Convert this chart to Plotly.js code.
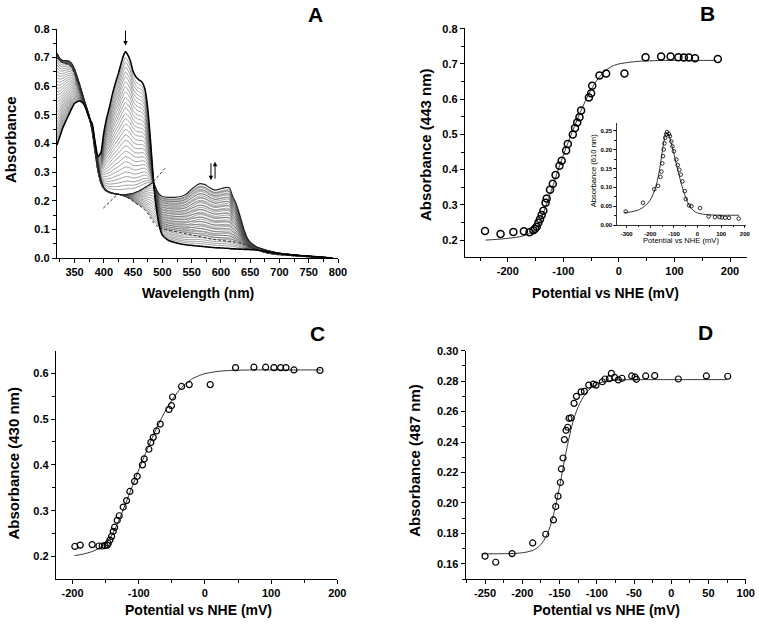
<!DOCTYPE html>
<html><head><meta charset="utf-8">
<script src="https://cdn.plot.ly/plotly-3.0.1.min.js"></script>
<style>html,body{margin:0;padding:0;background:#fff}#chart{width:759px;height:627px}</style>
</head><body><div id="chart"></div>
<script>
// ---------- Panel A: spectra ----------
const wavelengths = [320,325,330,335,340,345,350,355,360,365,370,375,380,385,390,395,400,405,410,415,420,425,430,435,437,440,445,450,455,460,465,470,475,480,485,490,495,500,510,520,530,540,550,560,565,570,575,580,590,600,610,615,620,625,630,635,640,645,650,660,670,680,690,700,720,740,760,780,790];
const specOx = [0.395,0.425,0.455,0.478,0.500,0.522,0.540,0.547,0.548,0.540,0.518,0.488,0.470,0.405,0.355,0.368,0.438,0.490,0.530,0.575,0.612,0.645,0.683,0.714,0.721,0.713,0.690,0.652,0.632,0.622,0.615,0.592,0.522,0.402,0.265,0.170,0.110,0.080,0.062,0.055,0.050,0.046,0.044,0.042,0.041,0.040,0.039,0.038,0.036,0.035,0.034,0.033,0.032,0.032,0.031,0.031,0.030,0.030,0.029,0.028,0.025,0.021,0.018,0.015,0.011,0.008,0.005,0.002,0.000];
const specSq = [0.715,0.697,0.690,0.690,0.688,0.680,0.660,0.630,0.598,0.562,0.530,0.497,0.455,0.385,0.318,0.272,0.247,0.236,0.230,0.226,0.224,0.222,0.221,0.221,0.221,0.222,0.224,0.226,0.230,0.234,0.240,0.246,0.252,0.259,0.262,0.238,0.222,0.215,0.212,0.212,0.214,0.222,0.240,0.256,0.260,0.258,0.254,0.246,0.237,0.242,0.247,0.244,0.215,0.195,0.165,0.130,0.095,0.070,0.055,0.040,0.032,0.026,0.021,0.017,0.012,0.007,0.004,0.001,0.000];
const specRed = [0.700,0.688,0.682,0.679,0.676,0.666,0.646,0.616,0.585,0.553,0.524,0.490,0.442,0.368,0.300,0.260,0.240,0.232,0.228,0.226,0.225,0.223,0.220,0.216,0.214,0.211,0.206,0.198,0.190,0.184,0.177,0.168,0.156,0.140,0.124,0.113,0.106,0.102,0.097,0.093,0.089,0.085,0.081,0.076,0.074,0.072,0.070,0.068,0.064,0.062,0.059,0.058,0.057,0.055,0.053,0.050,0.047,0.043,0.038,0.029,0.022,0.016,0.013,0.011,0.008,0.005,0.003,0.001,0.000];
// absorbance levels read at the 437 nm peak (oxidised -> semiquinone curves)
const phase1Peak437 = [0.700,0.684,0.668,0.650,0.634,0.616,0.598,0.580,0.561,0.543,0.524,0.505,0.487,0.468,0.449,0.430,0.411,0.392,0.373,0.354,0.336,0.318,0.300,0.284,0.268,0.254,0.241];
// absorbance levels read at 610 nm (semiquinone -> reduced curves)
const phase2Band610 = [0.236,0.224,0.211,0.198,0.184,0.170,0.156,0.142,0.128,0.114,0.101,0.089,0.078,0.068];
const aXTicks = [350,400,450,500,550,600,650,700,750,800];
const aYTicks = [0,0.1,0.2,0.3,0.4,0.5,0.6,0.7,0.8];
const aYLabels = ['0.0','0.1','0.2','0.3','0.4','0.5','0.6','0.7','0.8'];
const dashGuides = [[399,0.174,422,0.220],[484.5,0.267,504.5,0.313]];

// ---------- Panel B ----------
const bPotential = [-241,-213,-190,-171,-161,-154,-151,-148,-145,-142,-139,-136,-132,-130,-124,-119,-114,-107,-103,-95,-92,-83,-79,-75,-71,-68,-54,-50,-48,-35,-23,10,48,76,93,107,117,126,137,178];
const bAbs443 = [0.226,0.217,0.223,0.225,0.222,0.228,0.232,0.238,0.249,0.259,0.271,0.283,0.306,0.318,0.343,0.360,0.385,0.411,0.425,0.454,0.473,0.500,0.518,0.534,0.549,0.568,0.605,0.617,0.638,0.667,0.673,0.673,0.719,0.721,0.721,0.719,0.718,0.718,0.716,0.714];
const bFitX = [-240,-220,-200,-180,-170,-160,-150,-140,-130,-120,-110,-100,-90,-80,-70,-60,-50,-40,-30,-20,-10,0,20,40,60,80,100,140,175];
const bFitY = [0.200,0.202,0.205,0.209,0.213,0.220,0.230,0.260,0.303,0.348,0.396,0.441,0.483,0.523,0.561,0.596,0.627,0.653,0.672,0.686,0.695,0.700,0.705,0.708,0.709,0.710,0.710,0.710,0.710];
const bXTicks = [-200,-100,0,100,200];
const bXLabels = ['-200','-100','0','100','200'];
const bYTicks = [0.2,0.3,0.4,0.5,0.6,0.7,0.8];
const bYLabels = ['0.2','0.3','0.4','0.5','0.6','0.7','0.8'];

// ---------- Inset (610 nm) ----------
const insetPotential = [-304,-231,-183,-167,-157,-153,-149,-146,-143,-140,-137,-133,-129,-121,-117,-111,-106,-100,-90,-84,-77,-71,-64,-54,-50,-36,-26,11,47,74,93,103,117,133,174];
const insetAbs610 = [0.036,0.059,0.095,0.104,0.128,0.142,0.164,0.183,0.201,0.217,0.232,0.241,0.247,0.242,0.236,0.222,0.209,0.196,0.174,0.159,0.147,0.134,0.116,0.090,0.069,0.052,0.050,0.045,0.023,0.021,0.021,0.020,0.019,0.019,0.017];
const insetFitX = [-310,-280,-250,-230,-210,-195,-180,-170,-160,-150,-145,-140,-135,-130,-125,-120,-110,-100,-90,-80,-70,-60,-50,-40,-30,-20,-10,0,20,50,100,150,175];
const insetFitY = [0.033,0.035,0.040,0.047,0.058,0.072,0.095,0.118,0.150,0.192,0.212,0.230,0.241,0.245,0.243,0.236,0.215,0.190,0.163,0.137,0.113,0.091,0.073,0.058,0.047,0.040,0.035,0.032,0.029,0.027,0.026,0.026,0.026];
const insetXTicks = [-300,-200,-100,0,100,200];
const insetXLabels = ['-300','-200','-100','0','100','200'];
const insetYTicks = [0,0.05,0.10,0.15,0.20,0.25];
const insetYLabels = ['0.00','0.05','0.10','0.15','0.20','0.25'];

// ---------- Panel C ----------
const cPotential = [-196.5,-188.4,-170.3,-160.2,-155.2,-151,-147.6,-146,-143.5,-141,-138.5,-136.5,-132.5,-129.5,-123.5,-118.4,-113.4,-106.3,-102.3,-94.3,-91.7,-84.7,-81.7,-78.1,-73.1,-67.5,-54.4,-50.5,-48.9,-35.3,-23.7,8,46.3,74,91.7,104.3,114.4,122.4,134.5,173.8];
const cAbs430 = [0.222,0.225,0.226,0.223,0.223,0.224,0.225,0.229,0.236,0.244,0.255,0.264,0.279,0.289,0.308,0.322,0.342,0.364,0.375,0.400,0.413,0.434,0.449,0.460,0.474,0.489,0.521,0.529,0.548,0.571,0.575,0.575,0.612,0.613,0.613,0.612,0.612,0.612,0.607,0.606];
const cFitX = [-197,-185,-170,-160,-150,-140,-130,-120,-110,-100,-90,-80,-70,-60,-50,-40,-30,-20,-10,0,20,40,70,100,140,175];
const cFitY = [0.202,0.205,0.211,0.218,0.229,0.248,0.279,0.315,0.352,0.389,0.424,0.458,0.489,0.517,0.541,0.561,0.576,0.587,0.594,0.599,0.604,0.606,0.607,0.607,0.607,0.607];
const cXTicks = [-200,-100,0,100,200];
const cXLabels = ['-200','-100','0','100','200'];
const cYTicks = [0.2,0.3,0.4,0.5,0.6];
const cYLabels = ['0.2','0.3','0.4','0.5','0.6'];

// ---------- Panel D ----------
const dPotential = [-250,-235.7,-213.7,-186,-168.5,-158.2,-155.1,-152,-148.8,-147.5,-145.3,-143.5,-141.2,-139,-137.2,-134.5,-130.5,-127.3,-121.1,-116.6,-110.8,-104.5,-101,-92.5,-88.9,-83.1,-80.4,-76,-71,-66.1,-53.1,-48.6,-46.8,-34.3,-22.2,9.6,47.2,75.9];
const dAbs487 = [0.1650,0.1610,0.1667,0.1737,0.1794,0.1888,0.1976,0.2044,0.2134,0.2223,0.2295,0.2416,0.2477,0.2497,0.2556,0.2558,0.2654,0.2700,0.2730,0.2733,0.2774,0.2781,0.2774,0.2796,0.2814,0.2816,0.2851,0.2825,0.2808,0.2819,0.2834,0.2827,0.2812,0.2834,0.2836,0.2814,0.2834,0.2832];
const dFitX = [-255,-230,-210,-195,-185,-178,-172,-166,-162,-158,-154,-150,-146,-142,-138,-134,-130,-125,-120,-113,-105,-95,-85,-70,-50,-20,20,75];
const dFitY = [0.1665,0.1666,0.1668,0.1676,0.1690,0.1712,0.1745,0.1800,0.1855,0.1925,0.2010,0.2105,0.2210,0.2315,0.2410,0.2495,0.2565,0.2630,0.2680,0.2730,0.2765,0.2790,0.2801,0.2808,0.2810,0.2810,0.2810,0.2810];
const dXTicks = [-250,-200,-150,-100,-50,0,50,100];
const dXLabels = ['-250','-200','-150','-100','-50','0','50','100'];
const dYTicks = [0.16,0.18,0.20,0.22,0.24,0.26,0.28,0.30];
const dYLabels = ['0.16','0.18','0.20','0.22','0.24','0.26','0.28','0.30'];

// ---------- build ----------
const FONT = 'Liberation Sans, Arial, Helvetica, sans-serif';
const traces = [];
const i437 = wavelengths.indexOf(437), i610 = wavelengths.indexOf(610);
const thin = {color:'rgba(70,70,70,0.85)', width:0.6, shape:'spline', smoothing:0.5};

phase1Peak437.forEach(p => {
  const f = (p - specSq[i437]) / (specOx[i437] - specSq[i437]);
  traces.push({type:'scatter', mode:'lines', x:wavelengths, y:wavelengths.map((_,k)=>specSq[k]+f*(specOx[k]-specSq[k])), line:thin, xaxis:'x', yaxis:'y', hoverinfo:'skip'});
});
phase2Band610.forEach(p => {
  const g = (p - specRed[i610]) / (specSq[i610] - specRed[i610]);
  traces.push({type:'scatter', mode:'lines', x:wavelengths, y:wavelengths.map((_,k)=>specRed[k]+g*(specSq[k]-specRed[k])), line:thin, xaxis:'x', yaxis:'y', hoverinfo:'skip'});
});
traces.push({type:'scatter', mode:'lines', x:wavelengths, y:specRed, line:{color:'#222', width:1, dash:'3px,2px', shape:'spline', smoothing:0.5}, xaxis:'x', yaxis:'y'});
traces.push({type:'scatter', mode:'lines', x:wavelengths, y:specSq, line:{color:'#222', width:1.2, shape:'spline', smoothing:0.5}, xaxis:'x', yaxis:'y'});
traces.push({type:'scatter', mode:'lines', x:wavelengths, y:specOx, line:{color:'#000', width:1.6, shape:'spline', smoothing:0.5}, xaxis:'x', yaxis:'y'});

function fit(x, y, xa, ya){ return {type:'scatter', mode:'lines', x, y, line:{color:'#000', width:0.8, shape:'spline', smoothing:0.6}, xaxis:xa, yaxis:ya}; }
function pts(x, y, xa, ya, size, lw){ return {type:'scatter', mode:'markers', x, y, marker:{symbol:'circle-open', size, color:'#000', line:{width:lw, color:'#000'}}, xaxis:xa, yaxis:ya, cliponaxis:false}; }

traces.push(fit(bFitX, bFitY, 'x2', 'y2'));
traces.push(pts(bPotential, bAbs443, 'x2', 'y2', 7, 1.5));
traces.push(fit(insetFitX, insetFitY, 'x3', 'y3'));
traces.push(pts(insetPotential, insetAbs610, 'x3', 'y3', 3.6, 0.8));
traces.push(fit(cFitX, cFitY, 'x4', 'y4'));
traces.push(pts(cPotential, cAbs430, 'x4', 'y4', 6, 1.2));
traces.push(fit(dFitX, dFitY, 'x5', 'y5'));
traces.push(pts(dPotential, dAbs487, 'x5', 'y5', 6, 1.2));

function axis(domain, range, anchor, tv, tt, minorD, fs, tl){
  return {domain, range, anchor, tickmode:'array', tickvals:tv, ticktext:tt,
    showline:true, linecolor:'#000', linewidth:1.2, ticks:'outside', ticklen:tl, tickwidth:1, tickcolor:'#000',
    minor:{dtick:minorD, tick0:0, ticks:'outside', ticklen:tl*0.6, tickwidth:1, tickcolor:'#000', showgrid:false},
    showgrid:false, zeroline:false, mirror:false, fixedrange:true,
    tickfont:{family:FONT, size:fs, weight:'bold', color:'#000'}};
}
const P = (px)=>px/759, Q = (py)=>1-py/627;
const layout = {
  width:759, height:627, margin:{l:0,r:0,t:0,b:0}, paper_bgcolor:'#fff', plot_bgcolor:'rgba(0,0,0,0)', showlegend:false,
  font:{family:FONT, color:'#000'},
  xaxis: axis([P(57),P(338)], [320,800], 'y', aXTicks, aXTicks.map(String), 25, 11, 4),
  yaxis: axis([Q(258),Q(29)], [0,0.8], 'x', aYTicks, aYLabels, 0.05, 11, 4),
  xaxis2: axis([P(465),P(746.7)], [-277,230], 'y2', bXTicks, bXLabels, 50, 11, 4),
  yaxis2: axis([Q(257),Q(28)], [0.152,0.802], 'x2', bYTicks, bYLabels, 0.05, 11, 4),
  xaxis3: axis([P(616.7),P(746)], [-342,205], 'y3', insetXTicks, insetXLabels, 50, 6, 2.5),
  yaxis3: axis([Q(225),Q(122.7)], [0,0.272], 'x3', insetYTicks, insetYLabels, 0.025, 6, 2.5),
  xaxis4: axis([P(56),P(337.3)], [-225,200], 'y4', cXTicks, cXLabels, 50, 11, 4),
  yaxis4: axis([Q(579),Q(350.7)], [0.151,0.649], 'x4', cYTicks, cYLabels, 0.05, 11, 4),
  xaxis5: axis([P(465.7),P(745.7)], [-276,100], 'y5', dXTicks, dXLabels, 25, 11, 4),
  yaxis5: axis([Q(579),Q(350.7)], [0.150,0.300], 'x5', dYTicks, dYLabels, 0.01, 11, 4),
  shapes: dashGuides.map(g=>({type:'line', xref:'x', yref:'y', x0:g[0], y0:g[1], x1:g[2], y1:g[3], line:{color:'#333', width:1, dash:'3px,2px'}})),
  annotations: []
};
layout.xaxis3.linewidth = 0.8; layout.yaxis3.linewidth = 0.8;
layout.xaxis3.tickwidth = 0.7; layout.yaxis3.tickwidth = 0.7;

function txt(text, x, y, size, bold, angle){
  return {text, x, y, xref:'paper', yref:'paper', xanchor:'center', yanchor:'middle', showarrow:false, textangle:angle||0,
    font:{family:FONT, size, weight: bold ? 'bold' : 'normal', color:'#000'}};
}
const A = layout.annotations;
A.push(txt('A', P(315), Q(14.5), 21, true));
A.push(txt('B', P(707), Q(13.5), 21, true));
A.push(txt('C', P(317.5), Q(333), 21, true));
A.push(txt('D', P(705), Q(332.5), 21, true));
A.push(txt('Wavelength (nm)', P(197.5), Q(293), 14, true));
A.push(txt('Absorbance', P(10), Q(140), 15, true, -90));
A.push(txt('Potential vs NHE (mV)', P(605.7), Q(293), 14, true));
A.push(txt('Absorbance (443 nm)', P(425), Q(145), 15, true, -90));
A.push(txt('Potential vs NHE (mV)', P(680.7), Q(240.7), 7.6, false));
A.push(txt('Absorbance (610 nm)', P(593.3), Q(171), 7.6, false, -90));
A.push(txt('Potential vs NHE (mV)', P(198.3), Q(610), 14, true));
A.push(txt('Absorbance (430 nm)', P(13.3), Q(463.3), 15, true, -90));
A.push(txt('Potential vs NHE (mV)', P(606.2), Q(610), 14, true));
A.push(txt('Absorbance (487 nm)', P(415), Q(460.8), 15, true, -90));
// arrows in panel A
const arrow = (x, y, ax, ay) => ({x, y, ax, ay, xref:'x', yref:'y', axref:'x', ayref:'y', text:'', showarrow:true, arrowhead:2, arrowsize:0.9, arrowwidth:1, arrowcolor:'#000'});
A.push(arrow(437, 0.742, 437, 0.80));
A.push(arrow(583, 0.272, 583, 0.336));
A.push(arrow(590, 0.336, 590, 0.272));

Plotly.newPlot('chart', traces, layout, {staticPlot:true, displayModeBar:false});
</script>
</body></html>
